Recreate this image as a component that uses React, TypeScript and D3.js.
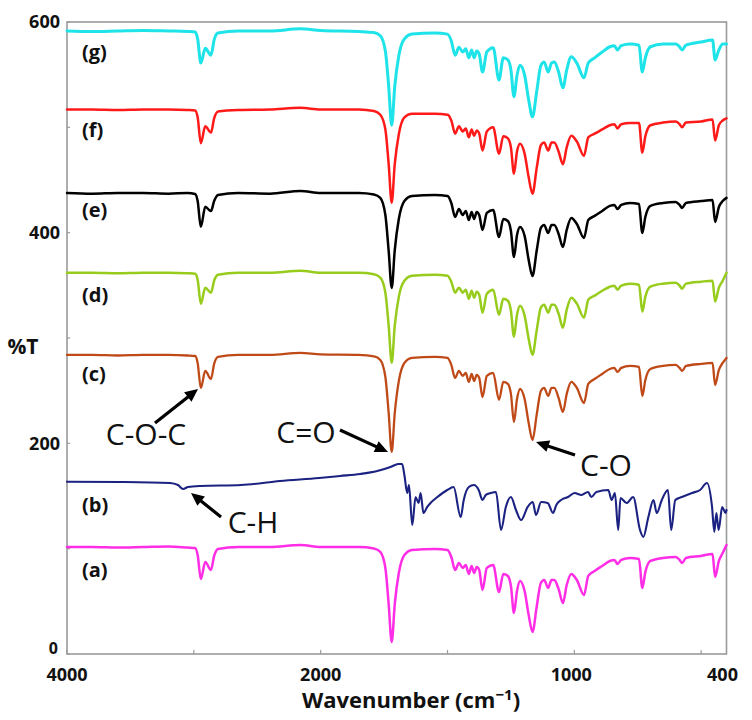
import React from "react";
import * as d3 from "d3";

// ---------- DATA ----------
// Wavenumber grid (cm-1) shared by the PCL-type spectra (a, c, d, e, f, g)
const WN = [
  4000, 3800, 3600, 3400, 3200, 3050, 2990, 2970, 2945, 2910,
  2865, 2840, 2810, 2650, 2400, 2160, 2000, 1850, 1790, 1765,
  1745, 1732, 1720, 1708, 1692, 1670, 1640, 1550, 1500, 1485,
  1470, 1455, 1440, 1428, 1416, 1405, 1395, 1385, 1375, 1362,
  1345, 1320, 1297, 1280, 1262, 1250, 1238, 1226, 1214, 1196,
  1180, 1165, 1148, 1132, 1119, 1103, 1090, 1079, 1062, 1045,
  1030, 1012, 990, 962, 945, 920, 890, 860, 842, 830,
  815, 780, 745, 732, 720, 700, 650, 600, 585, 575,
  560, 500, 455, 445, 430, 415, 400,
];

const T_G = [
  591.5, 591, 591.5, 592, 591.5, 591, 590.5, 584, 561, 575,
  568.5, 583, 589.5, 591.5, 591.5, 593.5, 592, 591, 590, 587,
  572.5, 539, 502, 539, 568, 584, 588.5, 589.5, 588.5, 582,
  568.5, 576, 571.5, 574.5, 566, 573.5, 566, 572.5, 569.5, 552.5,
  571.5, 575.5, 545, 566, 564, 554.5, 529, 549.5, 559, 549.5,
  526, 510, 534.5, 558.5, 562, 552.5, 561, 562, 552.5, 537.5,
  554.5, 567, 561, 547, 561, 566, 571.5, 576.5, 577.5, 573.5,
  577.5, 579, 578, 552.5, 566, 576.5, 579, 579, 576.5, 573.5,
  578, 581, 583, 564, 573.5, 579, 579,
];

const T_F = [
  517, 517, 516.5, 517, 517, 516.5, 516, 509.5, 485, 501,
  495, 508.5, 515, 516.5, 517, 518.5, 517, 517, 515.5, 512,
  498, 465, 428.5, 465, 493.5, 509.5, 513, 513, 512, 506.5,
  494, 501, 496, 499, 490.5, 498, 492, 497, 494, 478,
  496, 500, 475, 491.5, 489.5, 481, 456, 477, 484.5, 475,
  452.5, 437, 462, 483, 485.5, 478, 485.5, 485.5, 477, 465,
  481, 492, 486.5, 473, 490.5, 494, 498, 502, 503, 499,
  503, 504, 504, 476, 491.5, 502, 504.5, 505.5, 503, 500,
  504.5, 505.5, 507.5, 487.5, 502, 506.5, 508.5,
];

const T_E = [
  437.7, 437, 437.7, 437.7, 437, 437.7, 436.7, 430, 405.5, 424.5,
  420.5, 430, 435.8, 437.7, 437, 439.6, 437.7, 437.7, 436.3, 433,
  416.8, 382.6, 347.5, 383.5, 413, 430, 434.8, 435.8, 434.8, 428.2,
  414.9, 422.5, 416.8, 420.6, 412, 419.7, 413, 419.7, 416.8, 402.6,
  418.7, 421.6, 395.9, 413, 411.1, 401.6, 376.9, 397.8, 405.4, 396.9,
  374.1, 358.9, 383.5, 404.5, 407.3, 399.7, 407.3, 407.3, 398.8, 386.4,
  402.6, 414, 408.3, 395, 412, 415.9, 420.6, 425.4, 426.3, 422.5,
  426.3, 428.2, 427.3, 399.7, 414.9, 425.4, 428.2, 429.2, 426.3, 423.5,
  428.2, 430, 431, 410.2, 424.4, 430, 433,
];

const T_D = [
  362, 362, 361.5, 362, 362, 361.5, 361, 355.4, 332.6, 347.8,
  343, 354.4, 360.1, 362, 362, 363.9, 362, 362, 360.6, 357.3,
  343, 311.7, 276.5, 311.7, 339.2, 354.4, 359.2, 360.1, 359.2, 353.5,
  343, 347.8, 343, 345.9, 337.3, 344.9, 338.3, 344, 341.1, 324,
  342, 345.9, 322.1, 337.3, 335.4, 325.9, 301.2, 322.1, 330.7, 321.2,
  299.3, 284.1, 307.9, 328.8, 331.6, 324, 331.6, 331.6, 323.1, 309.8,
  326.9, 338.3, 332.6, 319.3, 336.4, 340.2, 344.9, 348.7, 349.7, 345.9,
  349.7, 351.6, 350.6, 325, 339.2, 348.7, 351.6, 352.5, 349.7, 346.8,
  351.6, 353.5, 354.4, 334.5, 347.8, 354.4, 362,
];

const T_C = [
  283.9, 283.9, 283.4, 283.9, 283.9, 283.4, 282.9, 276.3, 252.6, 268.7,
  261.1, 275.4, 282, 283.9, 283.9, 285.8, 284.4, 283.9, 282.5, 279.2,
  263, 228.8, 191.8, 228.8, 259.2, 276.3, 281.1, 282, 281.1, 274.4,
  262.1, 268.7, 264, 266.8, 258.3, 265.9, 259.2, 264.9, 262.1, 244,
  264, 266.8, 241.2, 258.3, 256.4, 246.9, 220.3, 242.1, 251.6, 242.1,
  219.3, 203.2, 227.9, 249.7, 252.6, 245, 252.6, 252.6, 243.1, 229.8,
  246.9, 258.3, 252.6, 238.3, 256.4, 261.1, 265.9, 270.6, 271.6, 267.8,
  271.6, 273.5, 272.5, 245, 260.2, 270.6, 273.5, 274.4, 271.6, 268.7,
  273.5, 275.4, 276.3, 255.4, 269.7, 276.3, 281.1,
];

const T_A = [
  101.6, 101.6, 101.1, 101.6, 102.1, 101.1, 100.6, 94, 71.2, 87.4,
  79.8, 93.1, 99.7, 101.6, 101.6, 103.5, 101.6, 101.6, 100.2, 96.9,
  81.7, 47.4, 11.4, 47.4, 76.9, 94, 98.8, 99.7, 98.8, 92.1,
  79.8, 86.4, 81.7, 84.5, 76, 83.6, 76.9, 82.6, 79.8, 60.8,
  81.7, 84.5, 58.9, 76, 74.1, 64.6, 38.9, 59.8, 69.3, 59.8,
  37, 20.9, 45.6, 67.4, 70.3, 62.7, 70.3, 70.3, 61.7, 48.4,
  65.5, 76, 70.3, 56, 74.1, 78.8, 83.6, 88.3, 89.3, 85.5,
  89.3, 91.2, 90.2, 62.7, 77.9, 88.3, 91.2, 92.1, 89.3, 86.4,
  91.2, 93.1, 95, 73.1, 88.3, 95.9, 103.5,
];

// Spectrum (b) has its own grid
const WN_B = [
  4000, 3582, 3188, 3125, 3085, 3046, 2952, 2628, 2321, 2013,
  1924, 1844, 1777, 1725, 1694, 1679, 1670, 1659, 1652, 1639,
  1626, 1614, 1606, 1595, 1580, 1567, 1540, 1501, 1476, 1448,
  1436, 1416, 1396, 1377, 1362, 1349, 1329, 1309, 1289, 1270,
  1250, 1230, 1210, 1184, 1164, 1151, 1131, 1105, 1084, 1071,
  1052, 1025, 999, 972, 946, 933, 913, 866, 853, 840,
  827, 818, 794, 768, 741, 728, 708, 688, 675, 655,
  631, 618, 602, 576, 536, 504, 477, 457, 448, 440,
  431, 417, 404, 400,
];
const T_B = [
  163.6, 163.3, 162.3, 160.4, 156.6, 158.5, 159.5, 160.4, 164.2, 167.1,
  169, 170.9, 173.7, 177.5, 180.4, 180.4, 169.9, 152.9, 160.4, 122.4,
  149, 143.4, 152.9, 133.9, 139.6, 143.4, 149, 155.7, 158.5, 130,
  146.2, 158.5, 160.4, 155.7, 146.2, 151, 152.9, 153.8, 117.7, 139.6,
  149, 136.7, 127.2, 139.6, 144.3, 132, 144.3, 143.4, 133.9, 141.5,
  146.2, 149, 152.9, 151, 153.8, 149, 153.8, 155.7, 146.2, 152.9,
  117.7, 148.1, 143.4, 149, 117.7, 111.1, 130, 146.2, 133.9, 146.2,
  155.7, 117.7, 146.2, 149, 152.9, 155.7, 162.3, 139.6, 115.8, 133.9,
  117.7, 139.6, 133.9, 136.7,
];

const SERIES_NAMES = ["(a)", "(b)", "(c)", "(d)", "(e)", "(f)", "(g)"];
const X_TICKS = [4000, 3000, 2000, 1500, 1000, 500];
const X_TICK_LABELS = [4000, 2000, 1000, 400];
const Y_TICKS = [0, 100, 200, 300, 400, 500, 600];
const Y_TICK_LABELS = [0, 200, 400, 600];

// ---------- CHART ----------
export default function App() {
  const W = 752;
  const H = 720;
  const left = 67;
  const right = 726.5;
  const top = 22;
  const bottom = 654;

  // FTIR-style axis: scale doubles below 2000 cm-1
  const x = d3
    .scaleLinear()
    .domain([4000, 2000, 400])
    .range([left, 320.7, right]);
  const y = d3.scaleLinear().domain([0, 600]).range([bottom, top]);

  const line = (wn: number[], vals: number[]) =>
    d3
      .line<number>()
      .x((_, i) => x(wn[i]))
      .y((v) => y(v))
      .curve(d3.curveMonotoneX)(vals) || "";

  const spectra = [
    { name: SERIES_NAMES[0], wn: WN, vals: T_A, color: "#ff2ee6", w: 2.5, ly: 570 },
    { name: SERIES_NAMES[1], wn: WN_B, vals: T_B, color: "#1b2281", w: 2.1, ly: 505 },
    { name: SERIES_NAMES[2], wn: WN, vals: T_C, color: "#bf4a18", w: 2.3, ly: 374 },
    { name: SERIES_NAMES[3], wn: WN, vals: T_D, color: "#97cc1c", w: 2.5, ly: 295 },
    { name: SERIES_NAMES[4], wn: WN, vals: T_E, color: "#000000", w: 2.5, ly: 210 },
    { name: SERIES_NAMES[5], wn: WN, vals: T_F, color: "#ff1a1a", w: 2.5, ly: 130 },
    { name: SERIES_NAMES[6], wn: WN, vals: T_G, color: "#1ee3e8", w: 3, ly: 52 },
  ];

  const font = "'Open Sans', 'Liberation Sans', sans-serif";
  const axisColor = "#9a9a9a";

  const arrows = [
    { x1: 155, y1: 423, x2: 198, y2: 389 },
    { x1: 340, y1: 430, x2: 388, y2: 452 },
    { x1: 575, y1: 455, x2: 536, y2: 442 },
    { x1: 221, y1: 517, x2: 191, y2: 493 },
  ];
  const notes = [
    { t: "C-O-C", x: 146, y: 434 },
    { t: "C=O", x: 306, y: 432 },
    { t: "C-O", x: 606, y: 465 },
    { t: "C-H", x: 253, y: 522 },
  ];

  const arrowHead = (a: { x1: number; y1: number; x2: number; y2: number }) => {
    const ang = Math.atan2(a.y2 - a.y1, a.x2 - a.x1);
    const len = 13;
    const half = 6;
    const bx = a.x2 - len * Math.cos(ang);
    const by = a.y2 - len * Math.sin(ang);
    const px = -Math.sin(ang) * half;
    const py = Math.cos(ang) * half;
    return `M${a.x2},${a.y2}L${bx + px},${by + py}L${bx - px},${by - py}Z`;
  };

  return (
    <div style={{ position: "absolute", left: 0, top: 0 }}>
      <svg width={W} height={H} viewBox={`0 0 ${W} ${H}`} style={{ display: "block", background: "#fff" }}>
        {/* frame */}
        <rect x={left} y={top} width={right - left} height={bottom - top} fill="none" stroke={axisColor} strokeWidth={1.6} />
        {/* x ticks */}
        {X_TICKS.map((t) => (
          <line key={"xt" + t} x1={x(t)} x2={x(t)} y1={bottom} y2={bottom - 4} stroke={axisColor} strokeWidth={1.2} />
        ))}
        {/* y ticks */}
        {Y_TICKS.map((t) => (
          <line key={"yt" + t} x1={left} x2={left + 3} y1={y(t)} y2={y(t)} stroke={axisColor} strokeWidth={1.2} />
        ))}
        {/* spectra */}
        {spectra.map((s) => (
          <path key={s.name} d={line(s.wn, s.vals)} fill="none" stroke={s.color} strokeWidth={s.w} strokeLinejoin="round" strokeLinecap="round" />
        ))}
        {/* series labels */}
        {spectra.map((s) => (
          <text key={"l" + s.name} x={82} y={s.ly} dy="0.35em" fontFamily={font} fontWeight={700} fontSize={20} fill="#111">
            {s.name}
          </text>
        ))}
        {/* y tick labels */}
        {Y_TICK_LABELS.map((t) => (
          <text
            key={"yl" + t}
            x={t === 0 ? 58 : 60}
            y={t === 0 ? y(t) - 6 : y(t)}
            dy="0.36em"
            textAnchor="end"
            fontFamily={font}
            fontWeight={700}
            fontSize={t === 0 ? 16 : 18}
            fill="#111"
          >
            {t}
          </text>
        ))}
        {/* x tick labels */}
        {X_TICK_LABELS.map((t) => (
          <text key={"xl" + t} x={t === 1000 ? x(t) - 3 : t === 400 ? x(t) - 4 : x(t)} y={681} textAnchor="middle" fontFamily={font} fontWeight={700} fontSize={18} fill="#111">
            {t}
          </text>
        ))}
        {/* axis titles */}
        <text x={411} y={708} textAnchor="middle" fontFamily={font} fontWeight={700} fontSize={22} fill="#111">
          Wavenumber (cm
          <tspan fontSize={15} dy={-8}>−1</tspan>
          <tspan dy={8}>)</tspan>
        </text>
        <text x={23} y={347} dy="0.35em" textAnchor="middle" fontFamily={font} fontWeight={700} fontSize={21} fill="#111">
          %T
        </text>
        {/* annotations */}
        {arrows.map((a, i) => (
          <g key={"ar" + i}>
            <line
              x1={a.x1}
              y1={a.y1}
              x2={a.x2 - 10 * Math.cos(Math.atan2(a.y2 - a.y1, a.x2 - a.x1))}
              y2={a.y2 - 10 * Math.sin(Math.atan2(a.y2 - a.y1, a.x2 - a.x1))}
              stroke="#000"
              strokeWidth={3.2}
            />
            <path d={arrowHead(a)} fill="#000" />
          </g>
        ))}
        {notes.map((n) => (
          <text key={n.t} x={n.x} y={n.y} dy="0.35em" textAnchor="middle" fontFamily={font} fontSize={30} fill="#111">
            {n.t}
          </text>
        ))}
      </svg>
    </div>
  );
}
